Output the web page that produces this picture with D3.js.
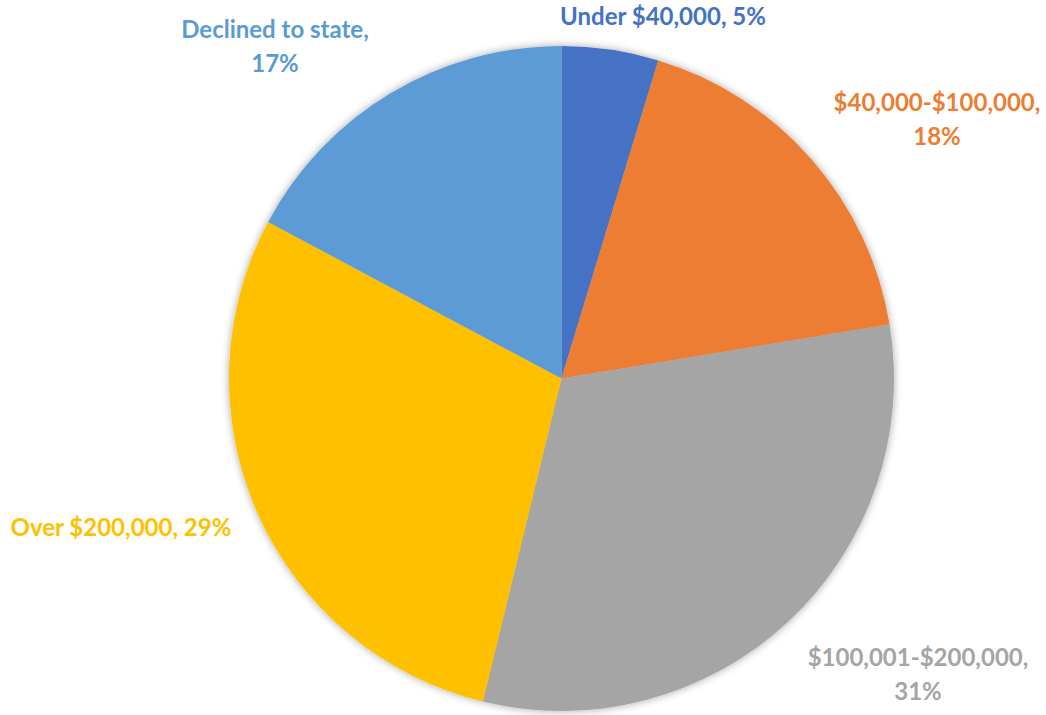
<!DOCTYPE html>
<html>
<head>
    <meta charset="utf-8">
    <script src="https://cdn.jsdelivr.net/npm/d3@7"></script>
    <style>
        body { margin: 0; background: #fff; }
        svg { font-family: Lato, 'Open Sans', sans-serif; }
        .label { font-weight: bold; font-size: 24px; }
    </style>
</head>
<body>
    <svg id="chart" width="1046" height="715"></svg>
    <script>
        // Slices clockwise from 12 o'clock
        var categories = ["Under $40,000", "$40,000-$100,000", "$100,001-$200,000", "Over $200,000", "Declined to state"];
        var values = [4.7, 17.7, 31.4, 29.0, 17.2];
        var shownPct = ["5%", "18%", "31%", "29%", "17%"];
        var colors = ["#4472C4", "#ED7D31", "#A5A5A5", "#FFC000", "#5B9BD5"];

        // label lines and their anchor points (centre of each text block)
        var labelLines = [
            ["Under $40,000, 5%"],
            ["$40,000-$100,000,", "18%"],
            ["$100,001-$200,000,", "31%"],
            ["Over $200,000, 29%"],
            ["Declined to state,", "17%"]
        ];
        var labelPos = [[663, 17], [937, 120], [918, 675], [121, 528], [275, 47]];

        var cx = 561.5, cy = 378.5, radius = 332.5;

        var svg = d3.select("#chart");

        // soft shadow round the pie
        var defs = svg.append("defs");
        var f = defs.append("filter").attr("id", "shadow")
            .attr("x", "-10%").attr("y", "-10%").attr("width", "120%").attr("height", "120%");
        f.append("feGaussianBlur").attr("in", "SourceAlpha").attr("stdDeviation", 4).attr("result", "blur");
        f.append("feComponentTransfer").attr("in", "blur").attr("result", "soft")
            .append("feFuncA").attr("type", "linear").attr("slope", 0.35);
        var merge = f.append("feMerge");
        merge.append("feMergeNode").attr("in", "soft");
        merge.append("feMergeNode").attr("in", "SourceGraphic");

        var data = categories.map((c, i) => ({ name: c, value: values[i], i: i }));

        var pie = d3.pie().sort(null).value(d => d.value);
        var arc = d3.arc().innerRadius(0).outerRadius(radius);

        var g = svg.append("g")
            .attr("transform", `translate(${cx},${cy})`)
            .attr("filter", "url(#shadow)");

        g.selectAll("path")
            .data(pie(data))
            .enter().append("path")
            .attr("d", arc)
            .attr("fill", d => colors[d.data.i]);

        // labels
        data.forEach(function (d, i) {
            var lines = labelLines[i];
            var lh = 34;
            var t = svg.append("text")
                .attr("class", "label")
                .attr("text-anchor", "middle")
                .attr("fill", colors[i]);
            lines.forEach(function (ln, k) {
                t.append("tspan")
                    .attr("x", labelPos[i][0])
                    .attr("y", labelPos[i][1] + (k - (lines.length - 1) / 2) * lh)
                    .attr("dy", "0.35em")
                    .text(ln);
            });
        });
    </script>
</body>
</html>
